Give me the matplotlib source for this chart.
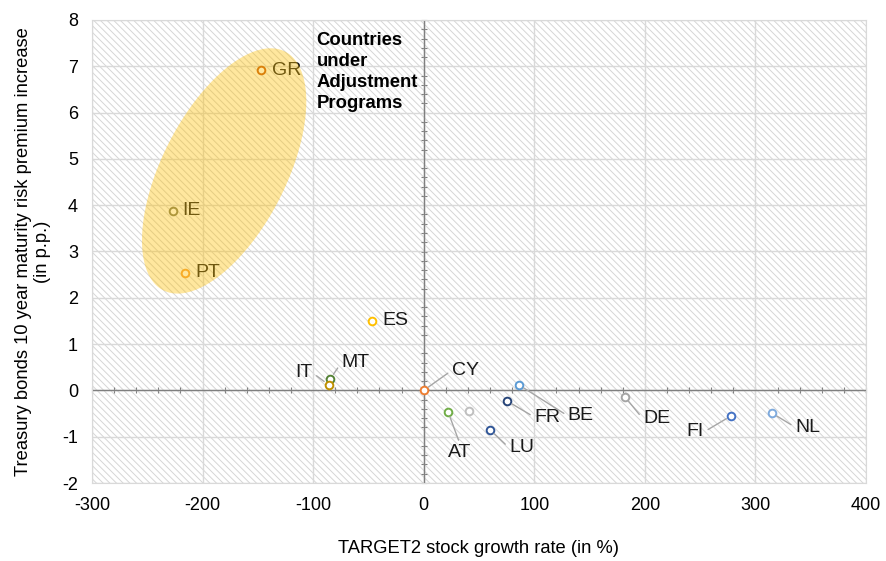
import matplotlib
matplotlib.use("Agg")
import matplotlib.pyplot as plt
import numpy as np
from matplotlib.patches import Polygon, Rectangle

plt.rcParams['font.family'] = ['Liberation Sans', 'DejaVu Sans']
plt.rcParams['axes.unicode_minus'] = False
plt.rcParams['hatch.color'] = '#d6d6d6'
plt.rcParams['hatch.linewidth'] = 0.7

# --- data ---
countries = ["GR", "IE", "PT", "ES", "MT", "IT", "CY", "AT", "", "FR", "BE", "LU", "DE", "FI", "NL"]
target2_growth = [-147, -227, -216, -47, -84.5, -86, 0, 22, 41, 75.5, 86, 60, 182, 278, 315]
risk_premium = [6.92, 3.88, 2.54, 1.50, 0.25, 0.12, 0.0, -0.46, -0.44, -0.23, 0.12, -0.85, -0.14, -0.55, -0.49]
colors = ["#c55a11", "#7f7f5f", "#f4a040", "#ffc000", "#548235", "#bf9000", "#ed7d31",
          "#70ad47", "#bfbfbf", "#264478", "#5b9bd5", "#2f5597", "#a5a5a5", "#4472c4", "#7eaadd"]

# label layout: (dx px, dy px, ha, leader)
label_layout = {
    "GR": (11, 0, 'left', False),
    "IE": (10, 0, 'left', False),
    "PT": (10, 0, 'left', False),
    "ES": (11, 0, 'left', False),
    "MT": (11, 16, 'left', True),
    "IT": (-16, 12, 'right', True),
    "CY": (28, 20, 'left', True),
    "AT": (12, -41, 'center', True),
    "FR": (27, -16, 'left', True),
    "BE": (49, -31, 'left', True),
    "LU": (19, -18, 'left', True),
    "DE": (18, -22, 'left', True),
    "FI": (-27, -16, 'right', True),
    "NL": (23, -14, 'left', True),
}

fig = plt.figure(figsize=(8.87, 5.61), dpi=100)
L, R, T, B = 92, 866, 20, 483
W, H = 887, 561
ax = fig.add_axes([L / W, 1 - B / H, (R - L) / W, (B - T) / H])

xmin, xmax, ymin, ymax = -300, 400, -2, 8
ax.set_xlim(xmin, xmax)
ax.set_ylim(ymin, ymax)

# hatched background
ax.add_patch(Rectangle((0, 0), 1, 1, transform=ax.transAxes, facecolor='white',
                       edgecolor='#d6d6d6', hatch='\\' * 5, linewidth=0, zorder=0))

ax.set_xticks(np.arange(xmin, xmax + 1, 100))
ax.set_yticks(np.arange(ymin, ymax + 1, 1))
ax.grid(True, color='#d9d9d9', linewidth=1.0, zorder=1)
ax.set_axisbelow(True)
ax.tick_params(length=0, labelsize=13, colors='#000000', pad=10)
for s in ax.spines.values():
    s.set_color('#d9d9d9')

# zero axes with minor ticks
ax.axhline(0, color='#7f7f7f', linewidth=1.0, zorder=2)
ax.axvline(0, color='#7f7f7f', linewidth=1.0, zorder=2)
secx = ax.secondary_xaxis((0 - ymin) / (ymax - ymin))
secx.set_xticks(np.arange(xmin, xmax + 1, 20))
secx.tick_params(direction='inout', length=5, width=0.8, color='#7f7f7f', labelbottom=False)
secx.spines['bottom'].set_visible(False)
secy = ax.secondary_yaxis((0 - xmin) / (xmax - xmin))
secy.set_yticks(np.arange(ymin, ymax + 0.01, 0.2))
secy.tick_params(direction='inout', length=5, width=0.8, color='#7f7f7f', labelleft=False)
secy.spines['left'].set_visible(False)

# points
for x, y, c in zip(target2_growth, risk_premium, colors):
    ax.plot(x, y, 'o', markersize=5.5, markerfacecolor='white', markeredgecolor=c,
            markeredgewidth=1.4, zorder=5)

# labels with leader lines
for name, x, y in zip(countries, target2_growth, risk_premium):
    if name not in label_layout:
        continue
    dx, dy, ha, leader = label_layout[name]
    relx = {'left': 0.0, 'right': 1.0, 'center': 0.5}[ha]
    rely = 0.5 if ha != 'center' else 1.0
    arrow = None
    if leader:
        arrow = dict(arrowstyle='-', color='#a6a6a6', linewidth=1.0,
                     shrinkA=1, shrinkB=4, relpos=(relx, rely))
    ax.annotate(name, (x, y), xytext=(dx, dy), textcoords='offset pixels',
                ha=ha, va='center', fontsize=14, color='#1a1a1a',
                arrowprops=arrow, zorder=6)

# ellipse around adjustment program countries (drawn on top, translucent)
sx = (R - L) / (xmax - xmin)
sy = (B - T) / (ymax - ymin)
cx, cy = -180.5, 4.74
a_px, b_px, theta = 134, 62, np.deg2rad(63)
t = np.linspace(0, 2 * np.pi, 200)
ex = a_px * np.cos(t) * np.cos(theta) - b_px * np.sin(t) * np.sin(theta)
ey = a_px * np.cos(t) * np.sin(theta) + b_px * np.sin(t) * np.cos(theta)
ax.add_patch(Polygon(np.column_stack([cx + ex / sx, cy + ey / sy]), closed=True,
                     facecolor='#ffc000', alpha=0.38, edgecolor='none', zorder=7))

ax.text(-97, 6.88, "Countries\nunder\nAdjustment\nPrograms", fontsize=13.3, fontweight='bold',
        ha='left', va='center', linespacing=1.3, zorder=8)

ax.set_xlabel("TARGET2 stock growth rate (in %)", fontsize=13.2)
ax.xaxis.set_label_coords(0.5, -0.123)
ax.set_ylabel("Treasury bonds 10 year maturity risk premium increase\n(in p.p.)", fontsize=13.2,
              labelpad=8)

fig.savefig("out.png", dpi=100)
